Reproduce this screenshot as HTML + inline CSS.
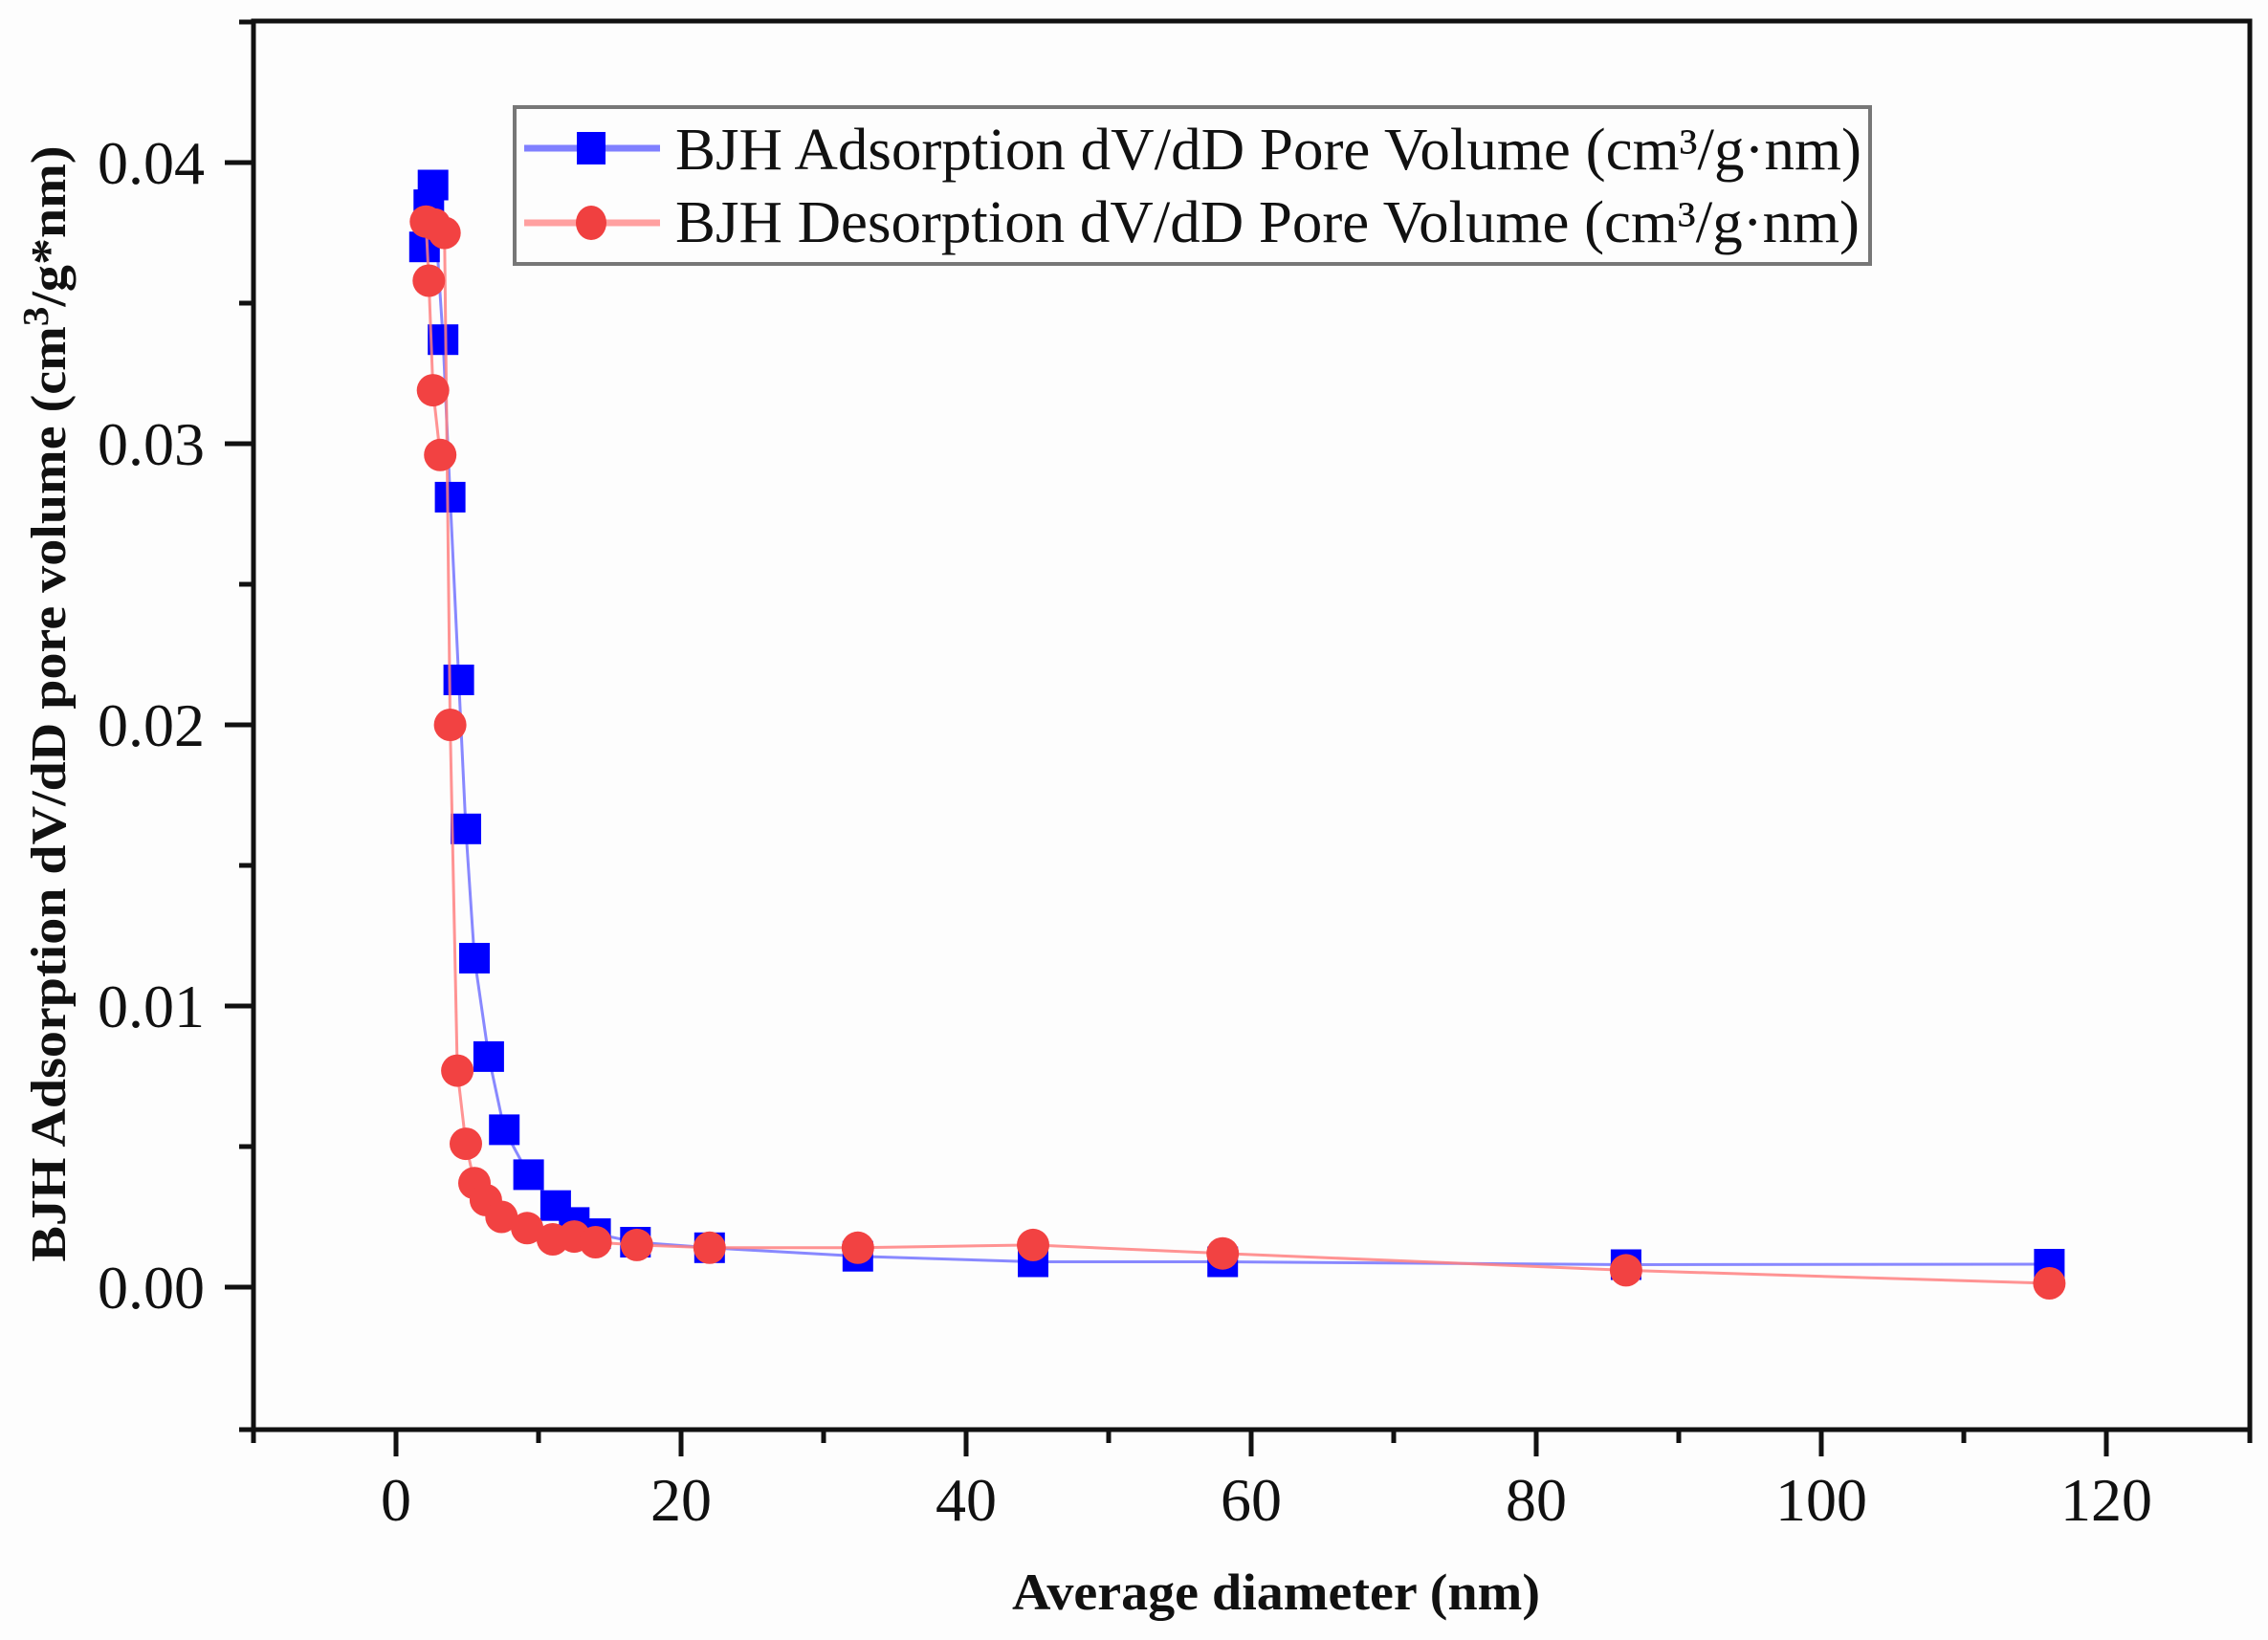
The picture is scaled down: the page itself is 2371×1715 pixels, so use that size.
<!DOCTYPE html>
<html><head><meta charset="utf-8"><style>html,body{margin:0;padding:0;background:#fdfdfd}</style></head>
<body>
<svg xmlns="http://www.w3.org/2000/svg" width="2371" height="1710" viewBox="0 0 2371 1710">
<rect width="2371" height="1710" fill="#fdfdfd"/>
<g stroke="#111" stroke-width="5" fill="none">
<rect x="265" y="22" width="2087" height="1473"/>
<!-- x ticks -->
<path d="M414 1495v28M712 1495v28M1010 1495v28M1308 1495v28M1606 1495v28M1904 1495v28M2202 1495v28"/>
<path d="M265 1495v14M563 1495v14M861 1495v14M1159 1495v14M1457 1495v14M1755 1495v14M2053 1495v14M2352 1495v14"/>
<!-- y ticks -->
<path d="M265 1346h-30M265 1052h-30M265 758h-30M265 464h-30M265 170h-30"/>
<path d="M265 1495h-15M265 1199h-15M265 905h-15M265 611h-15M265 317h-15M265 23h-15"/>
</g>
<g font-family="Liberation Serif, serif" font-size="64" fill="#111">
<g text-anchor="end">
<text x="214" y="192">0.04</text>
<text x="214" y="486">0.03</text>
<text x="214" y="780">0.02</text>
<text x="214" y="1074">0.01</text>
<text x="214" y="1368">0.00</text>
</g>
<g text-anchor="middle">
<text x="414" y="1590">0</text>
<text x="712" y="1590">20</text>
<text x="1010" y="1590">40</text>
<text x="1308" y="1590">60</text>
<text x="1606" y="1590">80</text>
<text x="1904" y="1590">100</text>
<text x="2202" y="1590">120</text>
</g>
</g>
<text x="1334" y="1683" text-anchor="middle" font-family="Liberation Serif, serif" font-weight="bold" font-size="54" fill="#111" textLength="552" lengthAdjust="spacingAndGlyphs">Average diameter (nm)</text>
<text transform="translate(68,736) rotate(-90)" text-anchor="middle" font-family="Liberation Serif, serif" font-weight="bold" font-size="52" fill="#111" textLength="1167" lengthAdjust="spacingAndGlyphs">BJH Adsorption dV/dD pore volume (cm<tspan font-size="38" dy="-18">3</tspan><tspan dy="18">/g*nm)</tspan></text>

<!-- legend -->
<rect x="538" y="112" width="1417" height="164" fill="#fdfdfd" stroke="#777" stroke-width="4"/>
<line x1="548" y1="155" x2="690" y2="155" stroke="#8080ff" stroke-width="7"/>
<rect x="603" y="138" width="30" height="34" fill="#0000ff"/>
<line x1="548" y1="233" x2="690" y2="233" stroke="#ffa0a0" stroke-width="7"/>
<ellipse cx="618" cy="233" rx="16" ry="18" fill="#f04040"/>
<g font-family="Liberation Serif, serif" font-size="62" fill="#111">
<text x="706" y="177" textLength="1240" lengthAdjust="spacingAndGlyphs">BJH Adsorption dV/dD Pore Volume (cm³/g·nm)</text>
<text x="706" y="253" textLength="1238" lengthAdjust="spacingAndGlyphs">BJH Desorption dV/dD Pore Volume (cm³/g·nm)</text>
</g>

<!-- adsorption -->
<polyline fill="none" stroke="#6a6aff" stroke-opacity="0.8" stroke-width="3" points="443.8,258.2 448.3,214.1 452.7,193.5 463.2,355.2 470.6,519.9 479.6,711 487,866.8 496,1002 510.9,1104.9 527.2,1181.4 552.6,1228.4 580.9,1260.7 600.3,1278.4 622.6,1290.1 664.3,1299 741.8,1304.8 896.8,1313.7 1080,1319.5 1278.2,1319.5 1699.9,1322.5 2142.4,1322"/>
<g fill="#0000ff">
<rect x="427.8" y="242.2" width="32" height="32"/>
<rect x="432.3" y="198.1" width="32" height="32"/>
<rect x="436.7" y="177.5" width="32" height="32"/>
<rect x="447.2" y="339.2" width="32" height="32"/>
<rect x="454.6" y="503.9" width="32" height="32"/>
<rect x="463.6" y="695" width="32" height="32"/>
<rect x="471" y="850.8" width="32" height="32"/>
<rect x="480" y="986" width="32" height="32"/>
<rect x="494.9" y="1088.9" width="32" height="32"/>
<rect x="511.2" y="1165.4" width="32" height="32"/>
<rect x="536.6" y="1212.4" width="32" height="32"/>
<rect x="564.9" y="1244.7" width="32" height="32"/>
<rect x="584.3" y="1262.4" width="32" height="32"/>
<rect x="606.6" y="1274.1" width="32" height="32"/>
<rect x="648.3" y="1283" width="32" height="32"/>
<rect x="725.8" y="1288.8" width="32" height="32"/>
<rect x="880.8" y="1297.7" width="32" height="32"/>
<rect x="1064" y="1303.5" width="32" height="32"/>
<rect x="1262.2" y="1303.5" width="32" height="32"/>
<rect x="1683.9" y="1306.5" width="32" height="32"/>
<rect x="2126.4" y="1306" width="32" height="32"/>
</g>

<!-- desorption -->
<polyline fill="none" stroke="#ff8080" stroke-opacity="0.85" stroke-width="3" points="460.2,475.8 452.7,408.1 448.3,293.5 445.3,231.7 454.2,234.7 464.7,243.5 470.6,758 478.1,1119.6 487,1196.1 496,1237.2 507.9,1254.9 524.3,1272.5 551.1,1284.3 577.9,1296 600.3,1293.1 622.6,1299 665.8,1301.9 741.8,1304.8 896.8,1304.8 1080,1301.9 1278.2,1310.7 1699.9,1328.4 2142.4,1342"/>
<g fill="#f24242">
<circle cx="445.3" cy="231.7" r="17"/>
<circle cx="448.3" cy="293.5" r="17"/>
<circle cx="452.7" cy="408.1" r="17"/>
<circle cx="454.2" cy="234.7" r="17"/>
<circle cx="460.2" cy="475.8" r="17"/>
<circle cx="464.7" cy="243.5" r="17"/>
<circle cx="470.6" cy="758" r="17"/>
<circle cx="478.1" cy="1119.6" r="17"/>
<circle cx="487" cy="1196.1" r="17"/>
<circle cx="496" cy="1237.2" r="17"/>
<circle cx="507.9" cy="1254.9" r="17"/>
<circle cx="524.3" cy="1272.5" r="17"/>
<circle cx="551.1" cy="1284.3" r="17"/>
<circle cx="577.9" cy="1296" r="17"/>
<circle cx="600.3" cy="1293.1" r="17"/>
<circle cx="622.6" cy="1299" r="17"/>
<circle cx="665.8" cy="1301.9" r="17"/>
<circle cx="741.8" cy="1304.8" r="17"/>
<circle cx="896.8" cy="1304.8" r="17"/>
<circle cx="1080" cy="1301.9" r="17"/>
<circle cx="1278.2" cy="1310.7" r="17"/>
<circle cx="1699.9" cy="1328.4" r="17"/>
<circle cx="2142.4" cy="1342" r="17"/>
</g>
</svg>
</body></html>
